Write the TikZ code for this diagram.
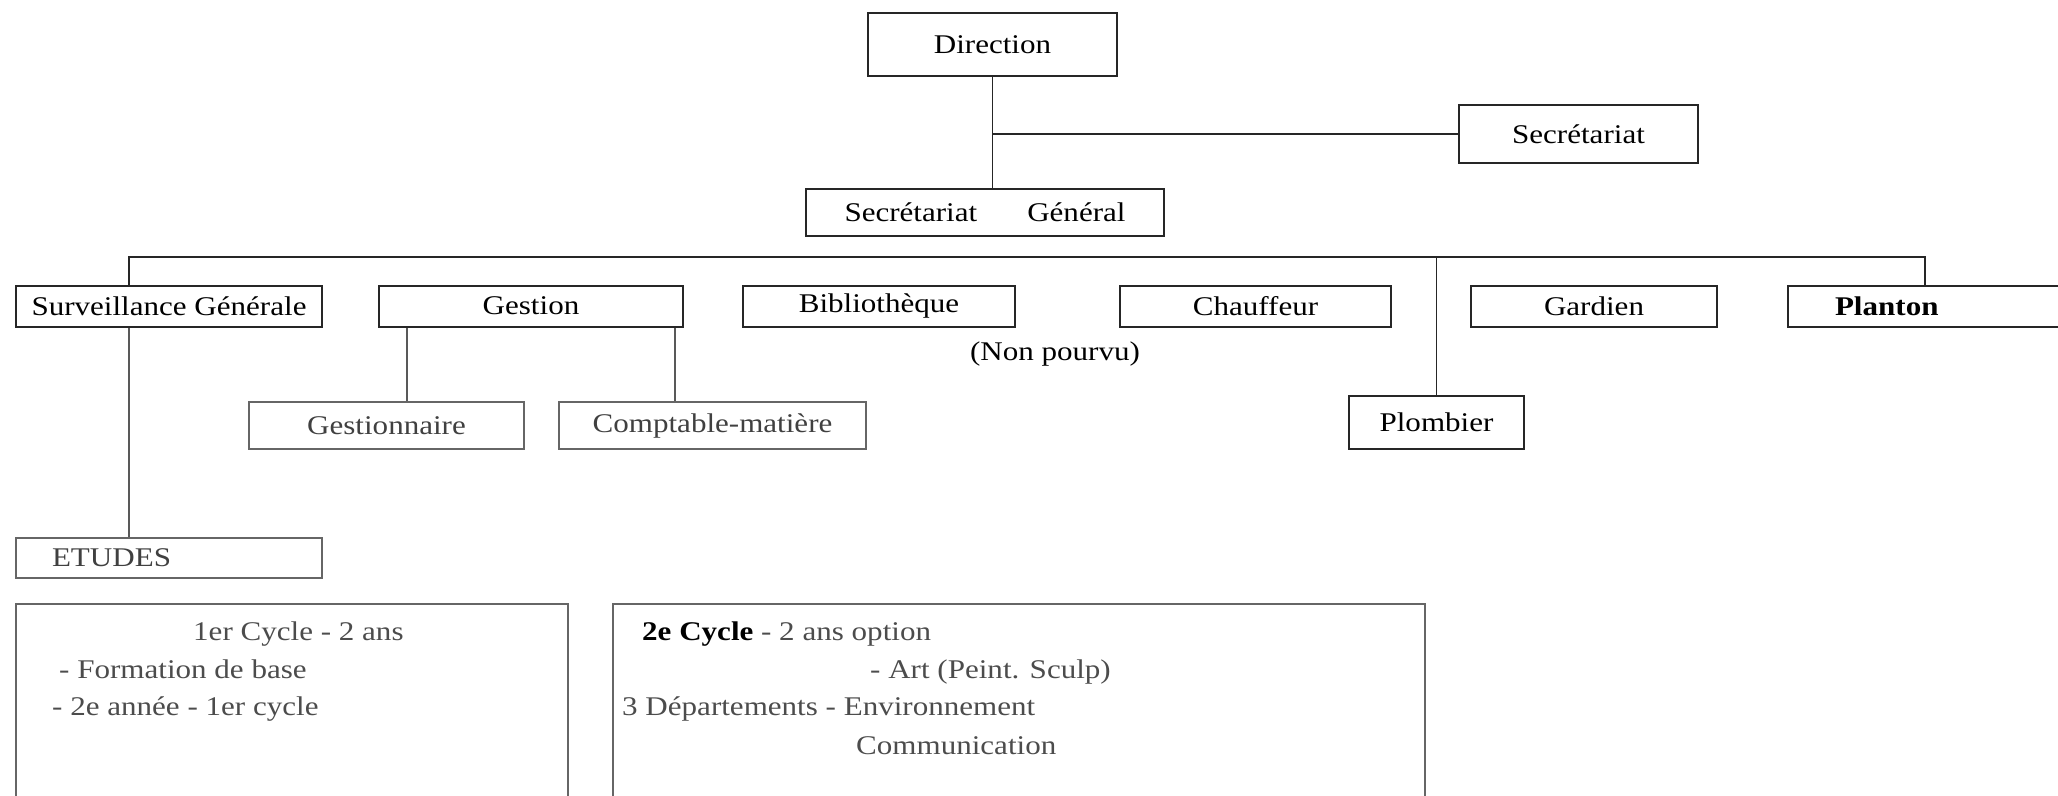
\documentclass[tikz,border=0pt]{standalone}
\usepackage{fontspec}
\setmainfont{Liberation Serif}[FakeStretch=1.15]
\begin{document}
\begin{tikzpicture}[x=1pt,y=-1pt,
  font=\fontsize{27}{32}\selectfont,
  box/.style={draw=black!85, line width=2pt, inner sep=0pt, minimum height=#1},
  box/.default=41pt,
  lbox/.style={draw=black!60, line width=1.6pt, inner sep=0pt, minimum height=#1, text=black!75},
  lbox/.default=47pt,
  conn/.style={draw=black!85, line width=1.5pt},
  lconn/.style={draw=black!65, line width=1.3pt},
  txt/.style={inner sep=0pt, anchor=base west, text=black!70}]
\useasboundingbox (0,0) rectangle (2058,795);
\clip (0,0) rectangle (2058,795);
% top level
\node[box=63pt, minimum width=249pt] (dir) at (992.5,44.5) {Direction};
\node[box=58pt, minimum width=239pt] (sec) at (1578.5,134) {Secrétariat};
\node[box=47pt, minimum width=358pt] (sg) at (985,212.5) {Secrétariat\hspace{50pt}Général};
% second level
\node[box, minimum width=306pt] (surv) at (169,306.5) {Surveillance Générale};
\node[box, minimum width=304pt] (gest) at (531,306) {Gestion};
\node[box, minimum width=272pt] (bib) at (879,306) {Bibliothèque};
\node[box, minimum width=271pt] (chauf) at (1255.5,306) {Chauffeur};
\node[box, minimum width=246pt] (gard) at (1594,306) {Gardien};
\node[box, minimum width=292pt, text width=198pt, inner xsep=47pt, align=left, font=\fontsize{27}{32}\selectfont\bfseries] (plan) at (1934,306) {Planton};
\node[inner sep=0pt] (np) at (1055,354) {(Non pourvu)};
% third level
\node[box=53pt, minimum width=175pt] (pl) at (1436.5,422.5) {Plombier};
\node[lbox, minimum width=275pt] (gnaire) at (386.5,425.5) {Gestionnaire};
\node[lbox, minimum width=307pt] (compt) at (712.5,425.5) {Comptable-matière};
\node[lbox=40pt, minimum width=306pt, text width=234pt, inner xsep=36pt, align=left] (etu) at (169,558) {ETUDES};
% cycle boxes
\node[lbox=206pt, minimum width=552pt] (c1) at (292,707) {};
\node[lbox=206pt, minimum width=812pt] (c2) at (1019,707) {};
\node[txt] (c1a) at (193,640) {1er Cycle - 2 ans};
\node[txt] (c1b) at (59,678) {- Formation de base};
\node[txt] (c1c) at (52,715) {- 2e année - 1er cycle};
\node[txt] (c2a) at (642,640) {\textcolor{black}{\bfseries 2e Cycle} - 2 ans option};
\node[txt] (c2b) at (870,678) {- Art (Peint. Sculp)};
\node[txt] (c2c) at (622,715) {3 Départements - Environnement};
\node[txt] (c2d) at (856,754) {Communication};
% connectors
\coordinate (j1) at (dir.south |- sec.west);
\draw[conn] (dir.south) -- (dir.south |- sg.north);
\draw[conn] (j1) -- (sec.west);
\coordinate (busL) at (129,257);
\coordinate (busR) at (1925,257);
\draw[conn] (surv.north -| busL) -- (busL) -- (busR) -- (plan.north -| busR);
\draw[conn] (pl.north |- busL) -- (pl.north);
\coordinate (gx1) at (407,0);
\coordinate (gx2) at (675,0);
\draw[lconn] (gest.south -| gx1) -- (gnaire.north -| gx1);
\draw[lconn] (gest.south -| gx2) -- (compt.north -| gx2);
\draw[lconn] (surv.south -| busL) -- (etu.north -| busL);
\end{tikzpicture}
\end{document}
